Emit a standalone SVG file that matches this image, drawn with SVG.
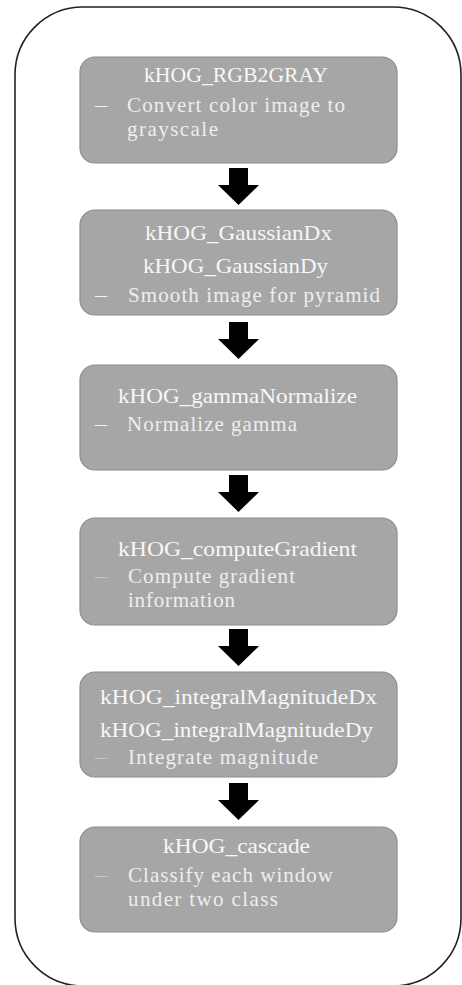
<svg xmlns="http://www.w3.org/2000/svg" width="462" height="985" viewBox="0 0 462 985">
<style>
.outer{fill:#ffffff;stroke:#222222;stroke-width:1.6}
.box{fill:#a6a6a6;stroke:#8c8c8c;stroke-width:1.2}
.t{font-family:"Liberation Serif","DejaVu Serif",serif;font-size:21px;fill:#f7f7f7;text-anchor:middle}
.b{font-family:"Liberation Serif","DejaVu Serif",serif;font-size:21px;fill:#eeeeee}
.d{font-family:"Liberation Serif","DejaVu Serif",serif;font-size:21px;fill:#f2f2f2}
.df{fill:#c4c4c4}
.arrow{fill:#000000}
</style>
<defs>
<path id="arr" d="M-9.5,0 H9.5 V17 H20.5 L0,37 L-20.5,17 H-9.5 Z"/>
</defs>
<rect class="outer" x="15" y="7" width="446" height="979" rx="68" ry="68"/>

<g id="node1">
<rect class="box" x="80" y="57" width="317" height="106" rx="15" ry="15"/>
<text class="t" x="236" y="82" textLength="184" lengthAdjust="spacingAndGlyphs">kHOG_RGB2GRAY</text>
<text class="d" x="95" y="112" textLength="12" lengthAdjust="spacingAndGlyphs">–</text>
<text class="b" x="127" y="112" textLength="218" lengthAdjust="spacing">Convert color image to</text>
<text class="b" x="127" y="136" textLength="91" lengthAdjust="spacing">grayscale</text>
</g>

<g id="node2">
<rect class="box" x="80" y="210" width="317" height="105" rx="15" ry="15"/>
<text class="t" x="238.5" y="240" textLength="187" lengthAdjust="spacingAndGlyphs">kHOG_GaussianDx</text>
<text class="t" x="235.5" y="273" textLength="185" lengthAdjust="spacingAndGlyphs">kHOG_GaussianDy</text>
<text class="d" x="95" y="302" textLength="12" lengthAdjust="spacingAndGlyphs">–</text>
<text class="b" x="128" y="302" textLength="252" lengthAdjust="spacing">Smooth image for pyramid</text>
</g>

<g id="node3">
<rect class="box" x="80" y="365" width="317" height="105" rx="15" ry="15"/>
<text class="t" x="237.5" y="403" textLength="239" lengthAdjust="spacingAndGlyphs">kHOG_gammaNormalize</text>
<text class="d" x="95" y="431" textLength="12" lengthAdjust="spacingAndGlyphs">–</text>
<text class="b" x="127" y="431" textLength="170" lengthAdjust="spacing">Normalize gamma</text>
</g>

<g id="node4">
<rect class="box" x="80" y="518" width="317" height="107" rx="15" ry="15"/>
<text class="t" x="237.5" y="556" textLength="239" lengthAdjust="spacingAndGlyphs">kHOG_computeGradient</text>
<text class="d df" x="95" y="583" textLength="12" lengthAdjust="spacingAndGlyphs">–</text>
<text class="b" x="128" y="583" textLength="167" lengthAdjust="spacing">Compute gradient</text>
<text class="b" x="128" y="607" textLength="107" lengthAdjust="spacing">information</text>
</g>

<g id="node5">
<rect class="box" x="80" y="672" width="317" height="105" rx="15" ry="15"/>
<text class="t" x="238.5" y="704" textLength="277" lengthAdjust="spacingAndGlyphs">kHOG_integralMagnitudeDx</text>
<text class="t" x="236.5" y="737" textLength="273" lengthAdjust="spacingAndGlyphs">kHOG_integralMagnitudeDy</text>
<text class="d df" x="95" y="764" textLength="12" lengthAdjust="spacingAndGlyphs">–</text>
<text class="b" x="128" y="764" textLength="190" lengthAdjust="spacing">Integrate magnitude</text>
</g>

<g id="node6">
<rect class="box" x="80" y="827" width="317" height="105" rx="15" ry="15"/>
<text class="t" x="236.5" y="853" textLength="147" lengthAdjust="spacingAndGlyphs">kHOG_cascade</text>
<text class="d df" x="95" y="882" textLength="12" lengthAdjust="spacingAndGlyphs">–</text>
<text class="b" x="128" y="882" textLength="205" lengthAdjust="spacing">Classify each window</text>
<text class="b" x="128" y="906" textLength="150" lengthAdjust="spacing">under two class</text>
</g>

<g id="connectors">
<use href="#arr" class="arrow" x="238.5" y="168"/>
<use href="#arr" class="arrow" x="238.5" y="322"/>
<use href="#arr" class="arrow" x="238.5" y="475"/>
<use href="#arr" class="arrow" x="238.5" y="629"/>
<use href="#arr" class="arrow" x="238.5" y="783"/>
</g>
</svg>
